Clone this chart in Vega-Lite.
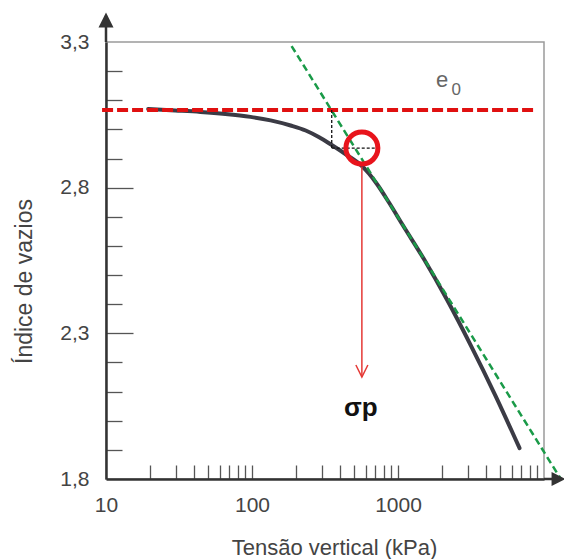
{
  "$schema": "https://vega.github.io/schema/vega-lite/v6.json",
  "width": 438,
  "height": 437,
  "autosize": {"type": "none"},
  "padding": {"left": 106, "top": 42, "right": 20, "bottom": 80},
  "background": "white",
  "config": {
    "view": {"stroke": "#9a9a9a", "strokeWidth": 1.5},
    "font": "Liberation Sans"
  },
  "encoding": {
    "x": {
      "field": "s", "type": "quantitative",
      "scale": {"type": "log", "domain": [10, 10000], "nice": false},
      "axis": {
        "values": [10,20,30,40,50,60,70,80,90,100,200,300,400,500,600,700,800,900,1000,2000,3000,4000,5000,6000,7000,8000,9000,10000],
        "labelExpr": "datum.value == 10 || datum.value == 100 || datum.value == 1000 ? format(datum.value, 'd') : ''",
        "labelFlush": false,
        "labelOverlap": false,
        "labelFontSize": 21,
        "labelColor": "#444",
        "labelPadding": 29,
        "labelBaseline": "top",
        "tickSize": -14,
        "tickColor": "#555",
        "tickWidth": 1.3,
        "tickOpacity": {"condition": {"test": "datum.value == 10 || datum.value == 10000", "value": 0}, "value": 1},
        "domainColor": "#333",
        "domainWidth": 2.5,
        "grid": false,
        "title": "Tensão vertical (kPa)",
        "titleFontSize": 22,
        "titleFontWeight": "normal",
        "titleColor": "#444",
        "titleX": 228,
        "titleY": 68,
        "titleBaseline": "middle",
        "titleAlign": "center"
      }
    },
    "y": {
      "field": "e", "type": "quantitative",
      "scale": {"domain": [1.8, 3.3], "nice": false, "zero": false},
      "axis": {
        "values": [1.8,1.9,2.0,2.1,2.2,2.3,2.4,2.5,2.6,2.7,2.8,2.9,3.0,3.1,3.2,3.3],
        "labelExpr": "datum.value == 1.8 || datum.value == 2.3 || datum.value == 2.8 || datum.value == 3.3 ? replace(format(datum.value, '.1f'), '.', ',') : ''",
        "labelFlush": false,
        "labelOverlap": false,
        "labelFontSize": 21,
        "labelColor": "#444",
        "labelPadding": {"condition": {"test": "datum.value == 2.3 || datum.value == 2.8", "value": 44}, "value": 33},
        "tickSize": {"condition": {"test": "datum.value == 2.3 || datum.value == 2.8", "value": -27}, "value": -16},
        "tickColor": "#555",
        "tickWidth": 1.3,
        "tickOpacity": {"condition": {"test": "datum.value == 1.8 || datum.value == 3.3", "value": 0}, "value": 1},
        "domainColor": "#333",
        "domainWidth": 2.5,
        "grid": false,
        "title": "Índice de vazios",
        "titleFontSize": 23,
        "titleFontWeight": "normal",
        "titleColor": "#444",
        "titleAngle": 270,
        "titleX": -82,
        "titleY": 239,
        "titleBaseline": "middle",
        "titleAlign": "center"
      }
    }
  },
  "layer": [
    {
      "data": {"values": [
        {"s": 19.44, "e": 3.070},
        {"s": 29.8, "e": 3.065},
        {"s": 44.3, "e": 3.060},
        {"s": 65.7, "e": 3.053},
        {"s": 97.7, "e": 3.043},
        {"s": 134.0, "e": 3.031},
        {"s": 183.9, "e": 3.0134},
        {"s": 233.2, "e": 2.9962},
        {"s": 286.4, "e": 2.9739},
        {"s": 351.8, "e": 2.9464},
        {"s": 446.2, "e": 2.9121},
        {"s": 565.7, "e": 2.8743},
        {"s": 631.9, "e": 2.8486},
        {"s": 717.4, "e": 2.8125},
        {"s": 867.4, "e": 2.749},
        {"s": 1077.2, "e": 2.6718},
        {"s": 1518.5, "e": 2.5516},
        {"s": 2172, "e": 2.4143},
        {"s": 3145, "e": 2.2598},
        {"s": 4664, "e": 2.0848},
        {"s": 6797, "e": 1.9062}
      ]},
      "mark": {"type": "line", "color": "#3b3b45", "strokeWidth": 4, "interpolate": "monotone", "strokeCap": "round"}
    },
    {
      "data": {"values": [{"s": 186.7, "e": 3.286, "s2": 13183, "e2": 1.796}]},
      "mark": {"type": "rule", "color": "#1a9a48", "strokeWidth": 2.5, "strokeDash": [7, 4]},
      "encoding": {"x2": {"field": "s2"}, "y2": {"field": "e2"}}
    },
    {
      "data": {"values": [{"s": 9.4, "e": 3.067, "s2": 8610, "e2": 3.067}]},
      "mark": {"type": "rule", "color": "#e01010", "strokeWidth": 4, "strokeDash": [11, 4]},
      "encoding": {"x2": {"field": "s2"}, "y2": {"field": "e2"}}
    },
    {
      "data": {"values": [
        {"s": 351.6, "e": 3.067, "s2": 351.6, "e2": 2.936},
        {"s": 351.6, "e": 2.936, "s2": 739, "e2": 2.936}
      ]},
      "mark": {"type": "rule", "color": "#111", "strokeWidth": 1.3, "strokeDash": [3, 2]},
      "encoding": {"x2": {"field": "s2"}, "y2": {"field": "e2"}}
    },
    {
      "data": {"values": [{"s": 565.7, "e": 2.872, "s2": 565.7, "e2": 2.150}]},
      "mark": {"type": "rule", "color": "#e53935", "strokeWidth": 1.5},
      "encoding": {"x2": {"field": "s2"}, "y2": {"field": "e2"}}
    },
    {
      "data": {"values": [{"s": 565.7, "e": 2.1706}]},
      "mark": {"type": "point", "shape": "M-1,-1L0,1L1,-1", "filled": false, "stroke": "#e53935", "strokeWidth": 1.5, "size": 144, "opacity": 1}
    },
    {
      "data": {"values": [{"s": 565.7, "e": 2.936}]},
      "mark": {"type": "point", "shape": "circle", "filled": false, "stroke": "#e8141c", "strokeWidth": 5, "size": 1024, "opacity": 1}
    },
    {
      "data": {"values": [
        {"s": 10, "e": 3.3, "s2": 10, "e2": 3.39},
        {"s": 10000, "e": 1.8, "s2": 12583, "e2": 1.8}
      ]},
      "mark": {"type": "rule", "color": "#333", "strokeWidth": 2.5},
      "encoding": {"x2": {"field": "s2"}, "y2": {"field": "e2"}}
    },
    {
      "data": {"values": [{"s": 10, "e": 3.3755}]},
      "mark": {"type": "point", "shape": "M0,-1L1,1L-1,1Z", "filled": true, "color": "#333", "size": 225, "opacity": 1}
    },
    {
      "data": {"values": [{"s": 12583, "e": 1.8}]},
      "mark": {"type": "point", "shape": "M-1,-1L1,0L-1,1Z", "filled": true, "color": "#333", "size": 196, "opacity": 1}
    },
    {
      "data": {"values": [{"s": 557, "e": 2.044, "label": "σp"}]},
      "mark": {"type": "text", "fontSize": 26, "fontWeight": "bold", "color": "#111", "align": "center", "baseline": "middle"},
      "encoding": {"text": {"field": "label"}}
    },
    {
      "data": {"values": [{"s": 2004, "e": 3.17, "label": "e"}]},
      "mark": {"type": "text", "fontSize": 22, "color": "#666", "align": "center", "baseline": "middle"},
      "encoding": {"text": {"field": "label"}}
    },
    {
      "data": {"values": [{"s": 2503, "e": 3.135, "label": "0"}]},
      "mark": {"type": "text", "fontSize": 17, "color": "#666", "align": "center", "baseline": "middle"},
      "encoding": {"text": {"field": "label"}}
    }
  ]
}
